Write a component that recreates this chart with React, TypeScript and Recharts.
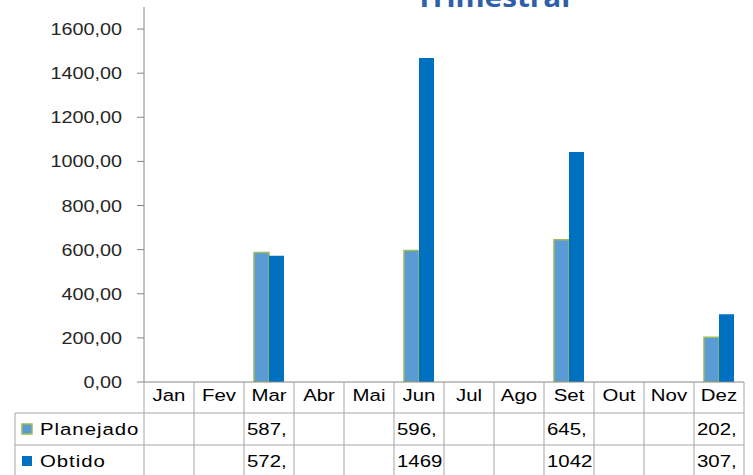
import React from 'react';
import { BarChart, Bar, XAxis, YAxis } from 'recharts';

const months = ['Jan', 'Fev', 'Mar', 'Abr', 'Mai', 'Jun', 'Jul', 'Ago', 'Set', 'Out', 'Nov', 'Dez'];
const planejado: (number | null)[] = [null, null, 587.2, null, null, 596.4, null, null, 645.3, null, null, 202.5];
const obtido: (number | null)[] = [null, null, 572.1, null, null, 1469.3, null, null, 1042.6, null, null, 307.4];
const yTicks = [0, 200, 400, 600, 800, 1000, 1200, 1400, 1600];
const seriesNames = ['Planejado', 'Obtido'];
const title = 'Trimestral';

const COLORS = { planejado: '#5B9BD5', planejadoBorder: '#9BBB59', obtido: '#0070C0' };
const W = 753;
const H = 475;
const MARGIN = { top: 7, right: 9, left: 0, bottom: 62 };
const YAXIS_W = 144;
const XAXIS_H = 31;
const PLOT_W = W - MARGIN.left - MARGIN.right - YAXIS_W;
const COLW = PLOT_W / months.length;
const ROW_H = 32;
const LEGEND_W = 129;
const GRID = '#A6A6A6';
const FONT = 'Liberation Sans, Arial, sans-serif';
const SX = 1.2;
const CELL_FONT = 17;
const CELL_PAD = 3;

const data = months.map((m, i) => ({ month: m, Planejado: planejado[i], Obtido: obtido[i] }));
const seriesValues = [planejado, obtido];

const fmt = (v: number) => v.toFixed(2).replace('.', ',');

// Like a spreadsheet data table: show only the characters that fit fully in the cell.
function fitText(s: string, avail: number) {
  let w = 0;
  let out = '';
  for (const ch of s) {
    const cw = (ch === ',' || ch === '.' ? 0.278 : 0.556) * CELL_FONT * SX;
    if (w + cw > avail) break;
    w += cw;
    out += ch;
  }
  return out;
}

function StretchText({ x, y, anchor, children, size = CELL_FONT, fill = '#000' }: any) {
  return (
    <g transform={`translate(${x},${y}) scale(${SX},1)`}>
      <text x={0} y={0} textAnchor={anchor} fontFamily={FONT} fontSize={size} fill={fill}>
        {children}
      </text>
    </g>
  );
}

function YTick(props: any) {
  const { x, y, payload } = props;
  return (
    <StretchText x={x} y={y + 6} anchor="end" size={16.5} fill="#262626">
      {fmt(payload.value)}
    </StretchText>
  );
}

function TableTick(props: any) {
  const { x, y, payload } = props;
  const i = payload.index ?? props.index;
  const left = x - COLW / 2;
  const right = x + COLW / 2;
  const top = y;
  const r1 = top + XAXIS_H;
  const r2 = r1 + ROW_H;
  const bottom = H;
  const last = i === months.length - 1;
  return (
    <g>
      <line x1={left} y1={top} x2={left} y2={bottom} stroke={GRID} strokeWidth={1} />
      {last && <line x1={right} y1={top} x2={right} y2={bottom} stroke={GRID} strokeWidth={1} />}
      <line x1={left} y1={r1} x2={right} y2={r1} stroke={GRID} strokeWidth={1} />
      <line x1={left} y1={r2} x2={right} y2={r2} stroke={GRID} strokeWidth={1} />
      <StretchText x={x} y={top + 19} anchor="middle">{payload.value}</StretchText>
      {seriesValues.map((arr, r) => {
        const v = arr[i];
        if (v == null) return null;
        const rowTop = r1 + r * ROW_H;
        return (
          <StretchText key={r} x={left + CELL_PAD} y={rowTop + 22} anchor="start">
            {fitText(fmt(v), COLW - CELL_PAD - 1)}
          </StretchText>
        );
      })}
      {i === 0 && (
        <g>
          <line x1={left - LEGEND_W} y1={r1} x2={left - LEGEND_W} y2={bottom} stroke={GRID} strokeWidth={1} />
          <line x1={left - LEGEND_W} y1={r1} x2={left} y2={r1} stroke={GRID} strokeWidth={1} />
          <line x1={left - LEGEND_W} y1={r2} x2={left} y2={r2} stroke={GRID} strokeWidth={1} />
          {seriesNames.map((name, r) => {
            const rowTop = r1 + r * ROW_H;
            const lx = left - LEGEND_W + 7;
            return (
              <g key={name}>
                <rect
                  x={lx}
                  y={rowTop + 11}
                  width={10}
                  height={10}
                  fill={r === 0 ? COLORS.planejado : COLORS.obtido}
                  stroke={r === 0 ? COLORS.planejadoBorder : COLORS.obtido}
                  strokeWidth={r === 0 ? 1.5 : 0}
                />
                <g transform={`translate(${lx + 18},${rowTop + 22}) scale(${SX},1)`}>
                  <text x={0} y={0} fontFamily={FONT} fontSize={17} letterSpacing={0.8} fill="#000">
                    {name}
                  </text>
                </g>
              </g>
            );
          })}
        </g>
      )}
    </g>
  );
}

export default function App() {
  return (
    <div style={{ position: 'absolute', left: 0, top: 0, width: W, height: H, background: '#fff', overflow: 'hidden' }}>
      <BarChart width={W} height={H} data={data} margin={MARGIN} barGap={0} barCategoryGap="20%">
        <XAxis
          dataKey="month"
          height={XAXIS_H}
          interval={0}
          tickLine={false}
          tickSize={0}
          tickMargin={0}
          axisLine={{ stroke: '#868686' }}
          tick={<TableTick />}
        />
        <YAxis
          width={YAXIS_W}
          domain={[0, 1700]}
          ticks={yTicks}
          allowDataOverflow
          axisLine={{ stroke: '#868686' }}
          tickLine={{ stroke: '#868686' }}
          tickSize={7}
          tickMargin={15}
          tick={<YTick />}
          interval={0}
        />
        <Bar dataKey="Planejado" fill={COLORS.planejado} stroke={COLORS.planejadoBorder} strokeWidth={1.5} isAnimationActive={false} />
        <Bar dataKey="Obtido" fill={COLORS.obtido} isAnimationActive={false} />
      </BarChart>
      <svg width={W} height={20} style={{ position: 'absolute', left: 0, top: 0 }}>
        <g transform={`translate(493,7) scale(1.1,1)`}>
          <text x={0} y={0} textAnchor="middle" fontFamily="Open Sans, sans-serif" fontWeight={700} fontSize={27} fill="#2E5FA8">
            {title}
          </text>
        </g>
      </svg>
    </div>
  );
}
